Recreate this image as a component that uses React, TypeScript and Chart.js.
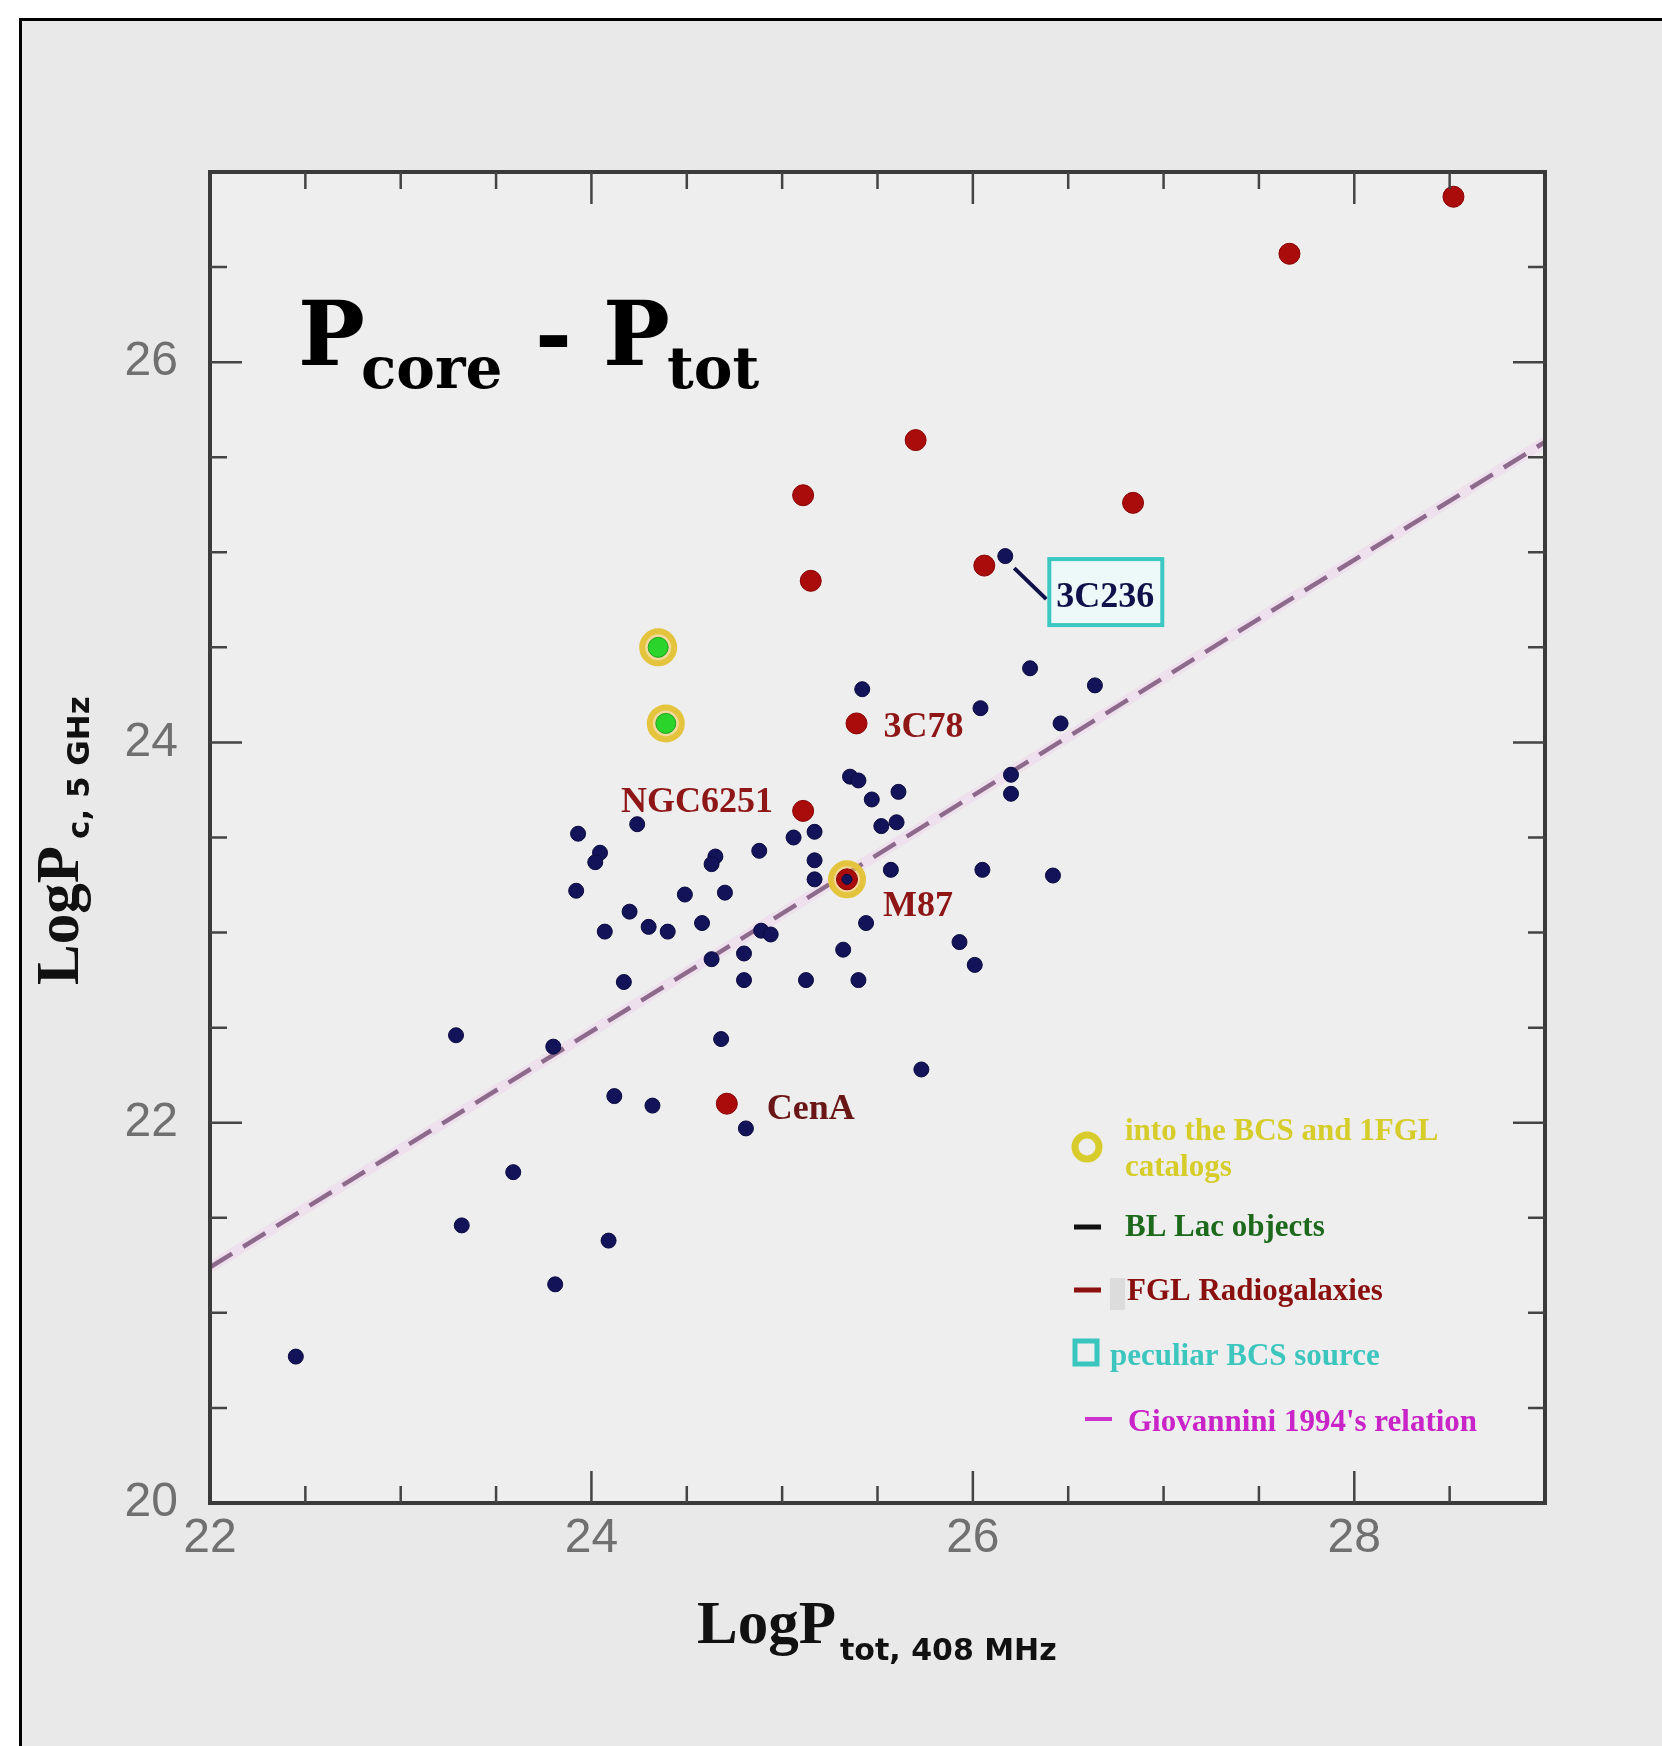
import React, { useEffect, useRef } from "react";
import { Chart, registerables } from "chart.js";

Chart.register(...registerables);

const X_MIN = 22;
const X_MAX = 29;
const Y_MIN = 20;
const Y_MAX = 27;
const TICK_STEP = 0.5;
const xTickLabels = [22, 24, 26, 28];
const yTickLabels = [20, 22, 24, 26];

// BCS sample (blue dots)
const bcsX = [
  22.45, 23.29, 23.32, 23.59, 23.8, 23.81, 24.09, 24.12, 24.32, 24.68, 24.81, 25.73,
  23.93, 24.045, 24.02, 24.24, 23.92, 24.07, 24.2, 24.3, 24.4, 24.17, 24.49, 24.58,
  24.65, 24.63, 24.7, 24.63, 24.8, 24.8, 24.88, 24.89, 24.94, 25.06, 25.17, 25.17,
  25.17, 25.125, 25.32, 25.4, 25.44, 25.57, 25.356, 25.4, 25.47, 25.61, 25.52, 25.6,
  25.42, 25.93, 26.01, 26.05, 26.42, 26.2, 26.2, 26.04, 26.3, 26.46, 26.64, 26.17,
  25.34,
];
const bcsY = [
  20.77, 22.46, 21.46, 21.74, 22.4, 21.15, 21.38, 22.14, 22.09, 22.44, 21.97, 22.28,
  23.52, 23.42, 23.37, 23.57, 23.22, 23.005, 23.11, 23.03, 23.005, 22.74, 23.2, 23.05,
  23.4, 23.36, 23.21, 22.86, 22.89, 22.75, 23.43, 23.01, 22.99, 23.5, 23.53, 23.38,
  23.28, 22.75, 22.91, 22.75, 23.05, 23.33, 23.82, 23.8, 23.7, 23.74, 23.56, 23.58,
  24.28, 22.95, 22.83, 23.33, 23.3, 23.83, 23.73, 24.18, 24.39, 24.1, 24.3, 24.98,
  23.28,
];

// 1FGL radio galaxies (red dots)
const fglX = [28.52, 27.66, 25.7, 25.11, 26.84, 25.15, 26.06, 25.39, 25.11, 25.34, 24.71];
const fglY = [26.87, 26.57, 25.59, 25.3, 25.26, 24.85, 24.93, 24.1, 23.64, 23.28, 22.1];

// BL Lac objects (green dots)
const blLacX = [24.35, 24.39];
const blLacY = [24.5, 24.1];

// Sources in both BCS and 1FGL catalogs (yellow rings)
const catalogX = [24.35, 24.39, 25.34];
const catalogY = [24.5, 24.1, 23.28];

// Giovannini 1994 relation (end points)
const relationX = [22, 29];
const relationY = [21.24, 25.58];

// Named sources
const namedSources = ["3C78", "NGC6251", "M87", "CenA"];
const namedX = [25.39, 25.11, 25.34, 24.71];
const namedY = [24.1, 23.64, 23.28, 22.1];

const peculiarName = "3C236";
const peculiarX = 26.17;
const peculiarY = 24.98;

const legendLabels = [
  ["into the BCS and 1FGL", "catalogs"],
  ["BL Lac objects"],
  ["FGL Radiogalaxies"],
  ["peculiar BCS source"],
  ["Giovannini 1994's relation"],
];

const xTitleMain = "LogP";
const xTitleSub = "tot, 408 MHz";
const yTitleMain = "LogP";
const yTitleSub = "c, 5 GHz";
const titleParts = ["P", "core", "-", "P", "tot"];

const toPts = (xs: number[], ys: number[]) => xs.map((x, i) => ({ x, y: ys[i] }));

const labelStyle: Record<string, { dx: number; dy: number; align: CanvasTextAlign; color: string }> = {
  "3C78": { dx: 27, dy: 4, align: "left", color: "#8e1616" },
  NGC6251: { dx: -30, dy: -8, align: "right", color: "#8e1616" },
  M87: { dx: 36, dy: 27, align: "left", color: "#8e1616" },
  CenA: { dx: 40, dy: 6, align: "left", color: "#6a1616" },
};

const decorPlugin = {
  id: "decor",
  beforeDraw(chart: any) {
    const { ctx, width, height, chartArea: a } = chart;
    ctx.save();
    ctx.fillStyle = "#ffffff";
    ctx.fillRect(0, 0, width, height);
    ctx.fillStyle = "#e9e9e9";
    ctx.fillRect(20, 19, width - 20, height - 19);
    ctx.fillStyle = "#eeeeee";
    ctx.fillRect(a.left, a.top, a.right - a.left, a.bottom - a.top);
    ctx.strokeStyle = "#000000";
    ctx.lineWidth = 3;
    ctx.beginPath();
    ctx.moveTo(20.5, height);
    ctx.lineTo(20.5, 19.5);
    ctx.lineTo(width, 19.5);
    ctx.stroke();
    ctx.restore();
  },
  afterDatasetsDraw(chart: any) {
    const { ctx, chartArea: a, scales } = chart;
    const xs = scales.x;
    const ys = scales.y;
    ctx.save();
    // frame
    ctx.strokeStyle = "#3a3a3a";
    ctx.lineWidth = 4;
    ctx.strokeRect(a.left, a.top, a.right - a.left, a.bottom - a.top);
    // inward ticks
    ctx.lineWidth = 2.5;
    ctx.strokeStyle = "#444444";
    for (let v = X_MIN + TICK_STEP; v < X_MAX - 1e-6; v += TICK_STEP) {
      const len = xTickLabels.includes(v) ? 32 : 17;
      const px = xs.getPixelForValue(v);
      ctx.beginPath();
      ctx.moveTo(px, a.bottom);
      ctx.lineTo(px, a.bottom - len);
      ctx.moveTo(px, a.top);
      ctx.lineTo(px, a.top + len);
      ctx.stroke();
    }
    for (let v = Y_MIN + TICK_STEP; v < Y_MAX - 1e-6; v += TICK_STEP) {
      const len = yTickLabels.includes(v) ? 32 : 17;
      const py = ys.getPixelForValue(v);
      ctx.beginPath();
      ctx.moveTo(a.left, py);
      ctx.lineTo(a.left + len, py);
      ctx.moveTo(a.right, py);
      ctx.lineTo(a.right - len, py);
      ctx.stroke();
    }

    // named source labels
    ctx.font = 'bold 36px "Liberation Serif"';
    ctx.textBaseline = "middle";
    namedSources.forEach((name, i) => {
      const st = labelStyle[name];
      const px = xs.getPixelForValue(namedX[i]);
      const py = ys.getPixelForValue(namedY[i]);
      ctx.fillStyle = st.color;
      ctx.textAlign = st.align;
      ctx.fillText(name, px + st.dx, py + st.dy);
    });

    // peculiar source 3C236
    const qx = xs.getPixelForValue(peculiarX);
    const qy = ys.getPixelForValue(peculiarY);
    ctx.strokeStyle = "#10104a";
    ctx.lineWidth = 4;
    ctx.beginPath();
    ctx.moveTo(qx + 9, qy + 12);
    ctx.lineTo(qx + 41, qy + 43);
    ctx.stroke();
    ctx.fillStyle = "rgba(236,250,250,0.9)";
    ctx.fillRect(qx + 44, qy + 3, 113, 66);
    ctx.strokeStyle = "#3cc8c2";
    ctx.lineWidth = 4;
    ctx.strokeRect(qx + 44, qy + 3, 113, 66);
    ctx.fillStyle = "#10104a";
    ctx.textAlign = "center";
    ctx.fillText(peculiarName, qx + 100, qy + 42);
    ctx.restore();
  },
  afterDraw(chart: any) {
    const { ctx } = chart;
    ctx.save();
    ctx.fillStyle = "#000000";
    ctx.textBaseline = "alphabetic";
    ctx.textAlign = "left";
    // big title
    ctx.font = 'bold 89px "DejaVu Serif"';
    ctx.fillText(titleParts[0], 298, 365);
    ctx.font = 'bold 58px "DejaVu Serif"';
    ctx.fillText(titleParts[1], 361, 388);
    ctx.font = 'bold 89px "DejaVu Serif"';
    ctx.fillText(titleParts[2], 535, 365);
    ctx.fillText(titleParts[3], 603, 365);
    ctx.font = 'bold 58px "DejaVu Serif"';
    ctx.fillText(titleParts[4], 667, 388);

    // x axis title
    ctx.fillStyle = "#111111";
    ctx.font = 'bold 61px "Liberation Serif"';
    ctx.fillText(xTitleMain, 697, 1643);
    ctx.font = 'bold 30px "DejaVu Sans"';
    ctx.fillText(xTitleSub, 840, 1660);

    // y axis title
    ctx.save();
    ctx.translate(78, 985);
    ctx.rotate(-Math.PI / 2);
    ctx.font = 'bold 61px "Liberation Serif"';
    ctx.fillText(yTitleMain, 0, 0);
    ctx.font = 'bold 31px "DejaVu Sans"';
    ctx.fillText(yTitleSub, 146, 11);
    ctx.restore();

    // legend
    ctx.font = 'bold 31px "Liberation Serif"';
    ctx.textBaseline = "middle";
    // 1: yellow ring
    ctx.strokeStyle = "#d8cc2c";
    ctx.lineWidth = 7;
    ctx.beginPath();
    ctx.arc(1087, 1147, 12, 0, Math.PI * 2);
    ctx.stroke();
    ctx.fillStyle = "#d6cc2a";
    ctx.fillText(legendLabels[0][0], 1125, 1132);
    ctx.fillText(legendLabels[0][1], 1125, 1168);
    // 2: BL Lac
    ctx.strokeStyle = "#111111";
    ctx.lineWidth = 5;
    ctx.beginPath();
    ctx.moveTo(1074, 1227);
    ctx.lineTo(1101, 1227);
    ctx.stroke();
    ctx.fillStyle = "#1d6a1d";
    ctx.fillText(legendLabels[1][0], 1125, 1228);
    // 3: FGL radio galaxies
    ctx.strokeStyle = "#8c1010";
    ctx.beginPath();
    ctx.moveTo(1074, 1290);
    ctx.lineTo(1101, 1290);
    ctx.stroke();
    ctx.fillStyle = "#dcdcdc";
    ctx.fillRect(1110, 1278, 15, 32);
    ctx.fillStyle = "#8a1010";
    ctx.fillText(legendLabels[2][0], 1127, 1292);
    // 4: peculiar source
    ctx.strokeStyle = "#38c6be";
    ctx.lineWidth = 5;
    ctx.strokeRect(1075, 1341, 22, 23);
    ctx.fillStyle = "#3cc6be";
    ctx.fillText(legendLabels[3][0], 1110, 1357);
    // 5: relation
    ctx.strokeStyle = "#cc33cc";
    ctx.lineWidth = 4;
    ctx.beginPath();
    ctx.moveTo(1085, 1419);
    ctx.lineTo(1112, 1419);
    ctx.stroke();
    ctx.fillStyle = "#c824c8";
    ctx.fillText(legendLabels[4][0], 1128, 1423);
    ctx.restore();
  },
};

export default function App() {
  const canvasRef = useRef<HTMLCanvasElement | null>(null);

  useEffect(() => {
    if (!canvasRef.current) return;
    const m87x = namedX[2];
    const m87y = namedY[2];
    const chart = new Chart(canvasRef.current, {
      type: "scatter",
      data: {
        datasets: [
          {
            label: "relation glow",
            data: toPts(relationX, relationY),
            showLine: true,
            borderColor: "rgba(238,170,228,0.2)",
            borderWidth: 11,
            pointRadius: 0,
            order: 10,
          },
          {
            label: "Giovannini 1994's relation",
            data: toPts(relationX, relationY),
            showLine: true,
            borderColor: "#8d6a8c",
            borderWidth: 4.5,
            borderDash: [26, 13],
            pointRadius: 0,
            order: 9,
          },
          {
            label: "into the BCS and 1FGL catalogs",
            data: toPts(catalogX, catalogY),
            pointRadius: 16,
            pointBorderWidth: 6,
            pointBorderColor: "#e4c43c",
            pointBackgroundColor: "rgba(248,200,90,0.55)",
            order: 8,
          },
          {
            label: "FGL Radiogalaxies",
            data: toPts(fglX, fglY),
            pointRadius: 10.5,
            pointBorderWidth: 1,
            pointBorderColor: "#8a0000",
            pointBackgroundColor: "#aa0c0c",
            order: 7,
          },
          {
            label: "BCS",
            data: toPts(bcsX, bcsY),
            pointRadius: (c: any) =>
              bcsX[c.dataIndex] === m87x && bcsY[c.dataIndex] === m87y ? 5 : 7.5,
            pointBorderWidth: 1,
            pointBorderColor: "#0a0a40",
            pointBackgroundColor: "#13135a",
            order: 6,
          },
          {
            label: "BL Lac objects",
            data: toPts(blLacX, blLacY),
            pointRadius: 10,
            pointBorderWidth: 1,
            pointBorderColor: "#1ea21e",
            pointBackgroundColor: "#2ad42a",
            order: 5,
          },
        ],
      },
      options: {
        animation: false,
        responsive: false,
        devicePixelRatio: 1,
        events: [],
        layout: { padding: { left: 0, top: 172, right: 117, bottom: 0 } },
        plugins: {
          legend: { display: false },
          tooltip: { enabled: false },
          title: { display: false },
        },
        scales: {
          x: {
            type: "linear",
            min: X_MIN,
            max: X_MAX,
            grid: { display: false, drawTicks: false },
            border: { display: false },
            ticks: {
              stepSize: TICK_STEP,
              autoSkip: false,
              maxRotation: 0,
              padding: 7,
              color: "#707070",
              font: { family: '"Liberation Sans", Arial, sans-serif', size: 48 },
              callback: (v: any) => (xTickLabels.includes(Number(v)) ? String(v) : ""),
            },
            afterFit: (s: any) => {
              s.height = 243;
            },
          },
          y: {
            type: "linear",
            min: Y_MIN,
            max: Y_MAX,
            grid: { display: false, drawTicks: false },
            border: { display: false },
            ticks: {
              stepSize: TICK_STEP,
              autoSkip: false,
              padding: 32,
              color: "#707070",
              font: { family: '"Liberation Sans", Arial, sans-serif', size: 48 },
              callback: (v: any) => (yTickLabels.includes(Number(v)) ? String(v) : ""),
            },
            afterFit: (s: any) => {
              s.width = 210;
            },
          },
        },
      } as any,
      plugins: [decorPlugin],
    });
    return () => chart.destroy();
  }, []);

  return (
    <div style={{ position: "absolute", left: 0, top: 0, width: 1662, height: 1746 }}>
      <canvas ref={canvasRef} width={1662} height={1746} style={{ width: 1662, height: 1746, display: "block" }} />
    </div>
  );
}
